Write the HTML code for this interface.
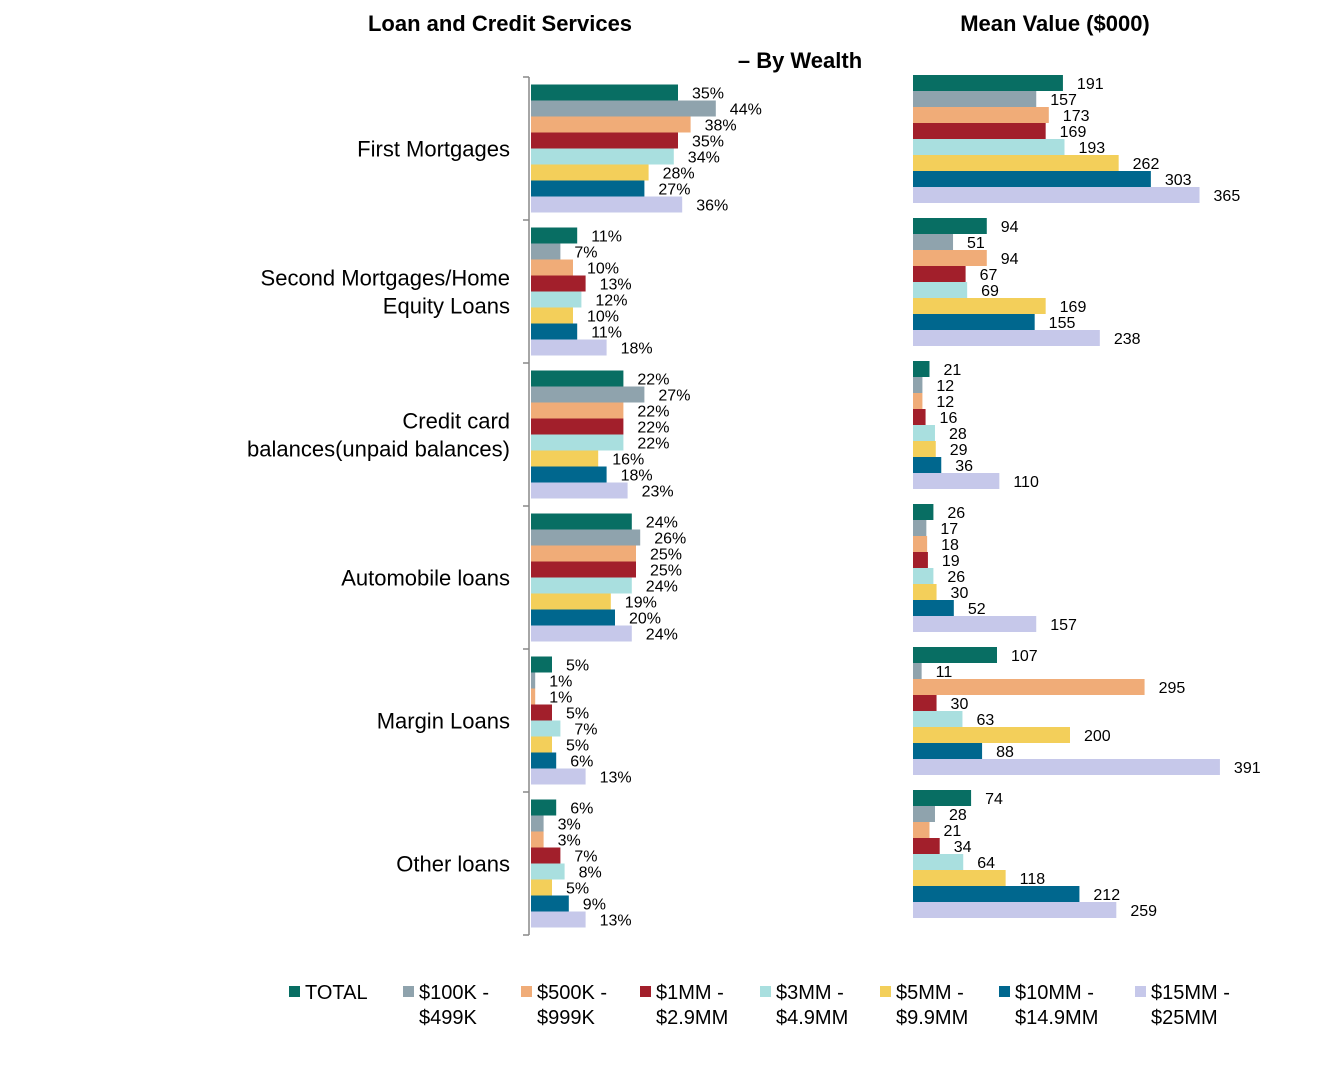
<!DOCTYPE html>
<html><head><meta charset="utf-8"><style>
body{margin:0;background:#fff;font-family:"Liberation Sans",Arial,sans-serif;}
svg text{font-family:"Liberation Sans",Arial,sans-serif;}
</style></head><body>
<svg id="chart" width="1328" height="1063" xmlns="http://www.w3.org/2000/svg">
<text x="500" y="31" text-anchor="middle" font-size="22" font-weight="bold">Loan and Credit Services</text>
<text x="800" y="68" text-anchor="middle" font-size="22" font-weight="bold">– By Wealth</text>
<text x="1055" y="31" text-anchor="middle" font-size="22" font-weight="bold">Mean Value ($000)</text>
<g id="left"></g><g id="right"></g><g id="legend"></g>
</svg>
<script>
const categories=["First Mortgages","Second Mortgages/Home|Equity Loans","Credit card|balances(unpaid balances)","Automobile loans","Margin Loans","Other loans"];
const seriesNames=["TOTAL","$100K -|$499K","$500K -|$999K","$1MM -|$2.9MM","$3MM -|$4.9MM","$5MM -|$9.9MM","$10MM -|$14.9MM","$15MM -|$25MM"];
const colors=["#086e63","#8fa3ad","#f0ac78","#a21f2b","#a9dfdf","#f3cf5a","#00678e","#c6c8ea"];
const pctFirstMortgages=[35,44,38,35,34,28,27,36];
const pctSecondMortgages=[11,7,10,13,12,10,11,18];
const pctCreditCard=[22,27,22,22,22,16,18,23];
const pctAuto=[24,26,25,25,24,19,20,24];
const pctMargin=[5,1,1,5,7,5,6,13];
const pctOther=[6,3,3,7,8,5,9,13];
const meanFirstMortgages=[191,157,173,169,193,262,303,365];
const meanSecondMortgages=[94,51,94,67,69,169,155,238];
const meanCreditCard=[21,12,12,16,28,29,36,110];
const meanAuto=[26,17,18,19,26,30,52,157];
const meanMargin=[107,11,295,30,63,200,88,391];
const meanOther=[74,28,21,34,64,118,212,259];
const pctData=[pctFirstMortgages,pctSecondMortgages,pctCreditCard,pctAuto,pctMargin,pctOther];
const meanData=[meanFirstMortgages,meanSecondMortgages,meanCreditCard,meanAuto,meanMargin,meanOther];
const NS="http://www.w3.org/2000/svg";
function mk(tag,attrs,parent){const e=document.createElementNS(NS,tag);for(const k in attrs)e.setAttribute(k,attrs[k]);parent.appendChild(e);return e;}
const xL=v=>531+v*4.2;
const xR=v=>913+v*0.785;
const bandH=143,barH=16;
const left=document.getElementById('left'),right=document.getElementById('right'),legend=document.getElementById('legend');
// left axis
const ax=mk('line',{x1:529,y1:77,x2:529,y2:935,stroke:'#888','stroke-width':1.5},left);


for(let g=0;g<=6;g++){const t=mk('line',{x1:523,x2:529,y1:77+g*bandH,y2:77+g*bandH,stroke:'#888','stroke-width':1.5},left);

}
categories.forEach((c,g)=>{
  const lines=c.split('|');const cy=77+g*bandH+bandH/2;
  const t=mk('text',{x:510,'text-anchor':'end','font-size':22},left);
  
  
  lines.forEach((ln,i)=>{const ts=mk('tspan',{x:510,y:cy+8+(i-(lines.length-1)/2)*28},t);ts.textContent=ln;});
  for(let s=0;s<8;s++){
    const yL=77+g*bandH+7.5+s*barH, yRr=yL-9.5;
    const v=pctData[g][s];
    const r=mk('rect',{x:531,y:yL,width:xL(v)-531,height:barH,fill:colors[s]},left);
    
    
    const tl=mk('text',{x:xL(v)+14,y:yL+14,'font-size':16},left);tl.textContent=v+'%';
    
    
    const m=meanData[g][s];
    const r2=mk('rect',{x:913,y:yRr,width:xR(m)-913,height:barH,fill:colors[s]},right);
    
    
    const t2=mk('text',{x:xR(m)+14,y:yRr+14,'font-size':16},right);t2.textContent=m;
    
    
  }
});
const legX=[289,403,521,640,760,880,999,1135];
seriesNames.forEach((n,i)=>{
  const r=mk('rect',{x:legX[i],y:986,width:11,height:11,fill:colors[i]},legend);
  
  
  const t=mk('text',{'font-size':20},legend);
  
  
  n.split('|').forEach((ln,j)=>{const ts=mk('tspan',{x:legX[i]+16,y:999+j*25},t);ts.textContent=ln;});
});
</script>
</body></html>
